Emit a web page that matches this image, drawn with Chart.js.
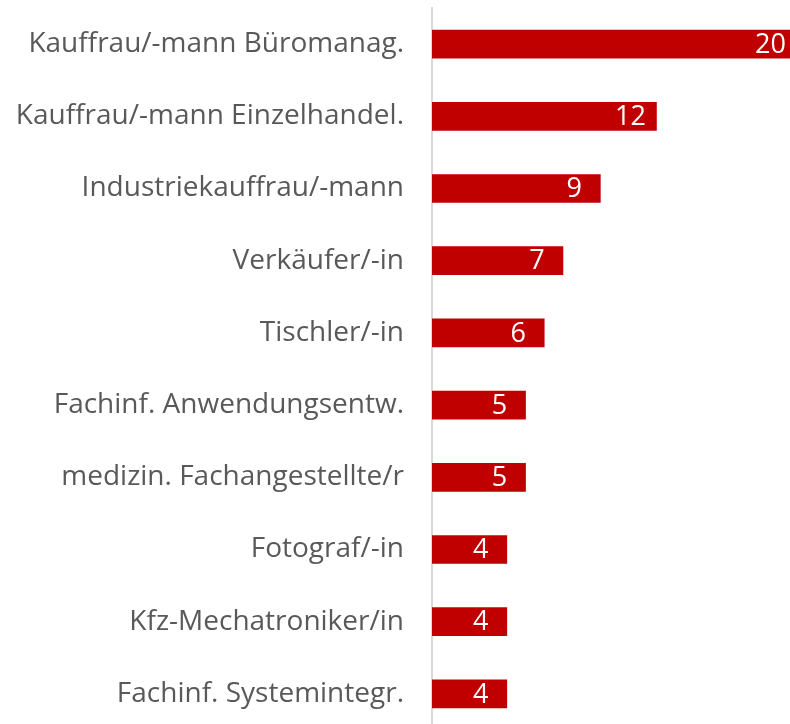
<!DOCTYPE html>
<html>
<head>
<meta charset="utf-8">
<script src="https://cdn.jsdelivr.net/npm/chart.js@4"></script>
<style>
html,body{margin:0;padding:0;background:#fff;overflow:hidden;}
#wrap{width:790px;height:724px;position:relative;overflow:hidden;}
</style>
</head>
<body>
<div id="wrap"><canvas id="c" width="790" height="730"></canvas></div>
<script>
const categories = [
  "Kauffrau/-mann Büromanag.",
  "Kauffrau/-mann Einzelhandel.",
  "Industriekauffrau/-mann",
  "Verkäufer/-in",
  "Tischler/-in",
  "Fachinf. Anwendungsentw.",
  "medizin. Fachangestellte/r",
  "Fotograf/-in",
  "Kfz-Mechatroniker/in",
  "Fachinf. Systemintegr."
];
const values = [20, 12, 9, 7, 6, 5, 5, 4, 4, 4];

const FONT = "'Open Sans', sans-serif";

const valueLabels = {
  id: 'valueLabels',
  afterDatasetsDraw(chart) {
    const ctx = chart.ctx;
    const meta = chart.getDatasetMeta(0);
    const area = chart.chartArea;
    ctx.save();
    ctx.font = "27px " + FONT;
    ctx.fillStyle = "#ffffff";
    ctx.textAlign = "center";
    ctx.textBaseline = "middle";
    meta.data.forEach((bar, i) => {
      const txt = String(values[i]);
      const w = ctx.measureText(txt).width;
      let x = bar.x - 26;
      x = Math.min(x, area.right - w / 2 - 4);
      ctx.fillText(txt, x, bar.y + 1);
    });
    ctx.restore();
  }
};

new Chart(document.getElementById('c'), {
  type: 'bar',
  data: {
    labels: categories,
    datasets: [{
      data: values,
      backgroundColor: '#C00000',
      borderWidth: 0,
      barThickness: 28
    }]
  },
  options: {
    indexAxis: 'y',
    responsive: false,
    animation: false,
    layout: { padding: { top: 8, right: 0, bottom: 0, left: 0 } },
    plugins: { legend: { display: false }, tooltip: { enabled: false } },
    scales: {
      x: {
        display: false,
        min: 0,
        max: 19.14
      },
      y: {
        afterFit(scale) {
          scale.width = 432;
          scale.paddingTop = 0;
          scale.paddingBottom = 0;
        },
        grid: { display: false, drawTicks: false },
        border: { display: true, color: '#D9D9D9', width: 2 },
        ticks: {
          color: '#595959',
          padding: 28,
          font: { family: FONT, size: 28 }
        }
      }
    }
  },
  plugins: [valueLabels]
});
</script>
</body>
</html>
